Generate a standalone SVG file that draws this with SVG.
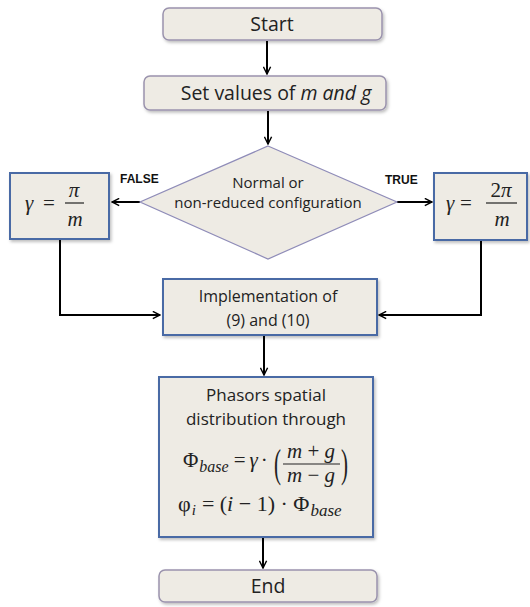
<svg xmlns="http://www.w3.org/2000/svg" width="530" height="607" viewBox="0 0 530 607">
<defs>
<marker id="ah" viewBox="0 0 10 10" refX="9" refY="5" markerWidth="9" markerHeight="9" markerUnits="userSpaceOnUse" orient="auto">
<path d="M1,1 L9,5 L1,9" fill="none" stroke="#000" stroke-width="1.6"/>
</marker>
<filter id="sh" x="-10%" y="-10%" width="130%" height="140%">
<feDropShadow dx="1.5" dy="2" stdDeviation="1.5" flood-color="#000" flood-opacity="0.25"/>
</filter>
<style>
.rnd{fill:#eeebe4;stroke:#9a93ad;stroke-width:1.5;filter:url(#sh)}
.sq{fill:#eeebe4;stroke:#4a6aa5;stroke-width:2;filter:url(#sh)}
.dia{fill:#eeebe4;stroke:#8f8cb8;stroke-width:1.2}
.t{font-family:"Open Sans","Liberation Sans",sans-serif;fill:#222;text-anchor:middle}
.lab{font-family:"Liberation Sans",Arial,sans-serif;font-weight:bold;font-size:12px;fill:#111}
.m{font-family:"Liberation Serif","DejaVu Serif",serif;font-style:italic;fill:#222}
.mu{font-family:"Liberation Serif","DejaVu Serif",serif;fill:#222}
.fl{stroke:#222;stroke-width:1.2}
.c{fill:none;stroke:#000;stroke-width:2}
</style>
</defs>

<g id="connectors">
<line class="c" x1="267" y1="41" x2="267" y2="74" marker-end="url(#ah)"/>
<line class="c" x1="268" y1="111" x2="268" y2="144" marker-end="url(#ah)"/>
<line class="c" x1="140" y1="202" x2="112" y2="202" marker-end="url(#ah)"/>
<line class="c" x1="397" y1="202" x2="432" y2="202" marker-end="url(#ah)"/>
<polyline class="c" points="60,240 60,315 160,315" marker-end="url(#ah)"/>
<polyline class="c" points="481,241 481,315 379,315" marker-end="url(#ah)"/>
<line class="c" x1="264" y1="336" x2="264" y2="375" marker-end="url(#ah)"/>
<line class="c" x1="263" y1="538" x2="263" y2="568" marker-end="url(#ah)"/>
</g>

<g id="start">
<rect class="rnd" x="163" y="8" width="219" height="32" rx="6"/>
<text class="t" x="272" y="31" font-size="19.5">Start</text>
</g>

<g id="setvalues">
<rect class="rnd" x="144" y="76" width="242" height="34" rx="6"/>
<text class="t" x="276" y="100" font-size="19.5">Set values of <tspan font-style="italic">m and g</tspan></text>
</g>

<g id="decision">
<polygon class="dia" points="268,146 397,202 268,259 140,202"/>
<text class="t" x="268" y="188" font-size="15">Normal or</text>
<text class="t" x="268" y="208" font-size="15">non-reduced configuration</text>
</g>

<text class="lab" x="120" y="183">FALSE</text>
<text class="lab" x="385" y="184">TRUE</text>

<g id="false-box">
<rect class="sq" x="10" y="173" width="99" height="66"/>
<text class="m" x="25" y="210" font-size="21">γ</text>
<text class="mu" x="43" y="210" font-size="21">=</text>
<text class="m" x="74" y="197" font-size="21" text-anchor="middle">π</text>
<line class="fl" x1="65" y1="203" x2="84" y2="203"/>
<text class="m" x="75" y="226" font-size="21" text-anchor="middle">m</text>
</g>

<g id="true-box">
<rect class="sq" x="434" y="173" width="93" height="67"/>
<text class="m" x="446" y="210" font-size="21">γ</text>
<text class="mu" x="460" y="210" font-size="21">=</text>
<text class="m" x="501" y="197" font-size="21" text-anchor="middle"><tspan font-style="normal">2</tspan>π</text>
<line class="fl" x1="486" y1="203" x2="517" y2="203"/>
<text class="m" x="502" y="226" font-size="21" text-anchor="middle">m</text>
</g>

<g id="implementation">
<rect class="sq" x="163" y="279" width="214" height="56"/>
<text class="t" x="268" y="302" font-size="16">Implementation of</text>
<text class="t" x="268" y="326" font-size="16">(9) and (10)</text>
</g>

<g id="phasors">
<rect class="sq" x="159" y="377" width="214" height="160"/>
<text class="t" x="266" y="401" font-size="17">Phasors spatial</text>
<text class="t" x="266" y="425" font-size="17">distribution through</text>
<text class="mu" x="183" y="467" font-size="21">Φ<tspan class="m" font-size="16" dy="5" dx="1">base</tspan><tspan dy="-5" dx="5">=</tspan><tspan font-style="italic" dx="4">γ</tspan><tspan dx="3">·</tspan></text>
<text class="mu" x="0" y="0" font-size="21" transform="translate(274,477) scale(1,1.9)">(</text>
<text class="m" x="311" y="458" font-size="21" text-anchor="middle">m <tspan font-style="normal">+</tspan> g</text>
<line class="fl" x1="283" y1="464" x2="340" y2="464"/>
<text class="m" x="311" y="482" font-size="21" text-anchor="middle">m <tspan font-style="normal">−</tspan> g</text>
<text class="mu" x="0" y="0" font-size="21" transform="translate(341,477) scale(1,1.9)">)</text>
<text class="mu" x="178" y="511" font-size="22">φ<tspan class="m" font-size="15" dy="4" dx="1">i</tspan><tspan dy="-4" dx="6">= (</tspan><tspan font-style="italic">i</tspan> − 1) · Φ<tspan class="m" font-size="17" dy="5" dx="1">base</tspan></text>
</g>

<g id="end">
<rect class="rnd" x="159" y="570" width="218" height="32" rx="6"/>
<text class="t" x="268" y="593" font-size="19.5">End</text>
</g>
</svg>
